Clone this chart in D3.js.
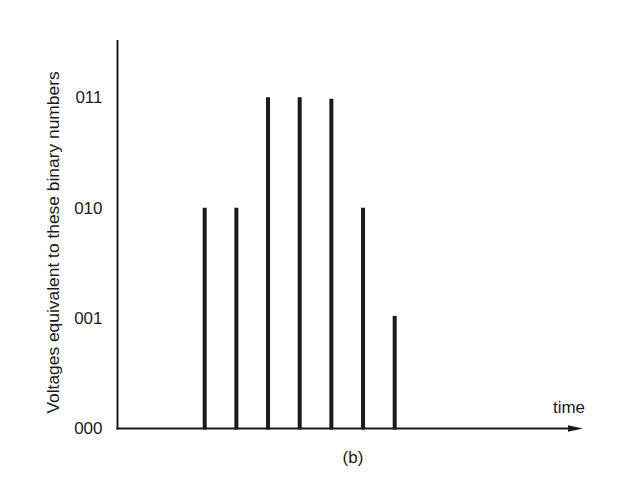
<!DOCTYPE html>
<html>
<head>
<meta charset="utf-8">
<script src="https://cdn.jsdelivr.net/npm/d3@7"></script>
<style>
  html, body { margin: 0; padding: 0; background: #fff; }
  svg text { font-family: "Liberation Sans", Arial, Helvetica, sans-serif; fill: #1a1a1a; }
</style>
</head>
<body>
<svg id="chart" width="622" height="480"></svg>
<script>
// ---- data ----
const samples = [3, 4, 5, 6, 7, 8, 9];               // sample instants (time)
const levels  = [2, 2, 3, 3, 2.985, 2, 1.02];         // quantised level of each sample
const tickValues = [0, 1, 2, 3];
const tickLabels = ["000", "001", "010", "011"];
const yTitle = "Voltages equivalent to these binary numbers";
const xTitle = "time";
const caption = "(b)";

// ---- layout ----
const svg = d3.select("#chart");
const x0 = 117.5, yBase = 428.5, yTop = 40, xEnd = 583;

const x = d3.scaleLinear().domain([3, 9]).range([204.7, 394.7]);
const y = d3.scaleLinear().domain([0, 3]).range([yBase, 97.2]);

const ink = "#1a1a1a";

// y axis line
svg.append("line")
  .attr("x1", x0).attr("x2", x0)
  .attr("y1", yTop).attr("y2", yBase + 1)
  .attr("stroke", ink).attr("stroke-width", 2);

// x axis line
svg.append("line")
  .attr("x1", x0 - 1).attr("x2", xEnd - 8)
  .attr("y1", yBase).attr("y2", yBase)
  .attr("stroke", ink).attr("stroke-width", 2);

// arrow head
svg.append("path")
  .attr("d", `M${xEnd},${yBase} L${xEnd - 15},${yBase - 3.2} L${xEnd - 15},${yBase + 3.2} Z`)
  .attr("fill", ink);

// tick labels (no tick marks)
const yAxis = d3.axisLeft(y)
  .tickValues(tickValues)
  .tickSize(0)
  .tickPadding(0)
  .tickFormat((d, i) => tickLabels[i]);
const gy = svg.append("g")
  .attr("transform", `translate(${x0 - 15},0)`)
  .call(yAxis);
gy.select(".domain").remove();
gy.selectAll("text")
  .attr("font-size", 17)
  .attr("font-family", "Liberation Sans, Arial, sans-serif")
  .attr("fill", ink);

// sample bars
svg.selectAll("line.bar")
  .data(samples)
  .enter().append("line")
  .attr("class", "bar")
  .attr("x1", d => x(d)).attr("x2", d => x(d))
  .attr("y1", yBase + 1)
  .attr("y2", (d, i) => y(levels[i]))
  .attr("stroke", ink)
  .attr("stroke-width", 4);

// y title
svg.append("text")
  .attr("transform", `translate(58.5,242.5) rotate(-90)`)
  .attr("text-anchor", "middle")
  .attr("font-size", 17.4)
  .text(yTitle);

// x title
svg.append("text")
  .attr("x", 569).attr("y", 413)
  .attr("text-anchor", "middle")
  .attr("font-size", 17)
  .text(xTitle);

// caption
svg.append("text")
  .attr("x", 353).attr("y", 463)
  .attr("text-anchor", "middle")
  .attr("font-size", 17)
  .text(caption);
</script>
</body>
</html>
